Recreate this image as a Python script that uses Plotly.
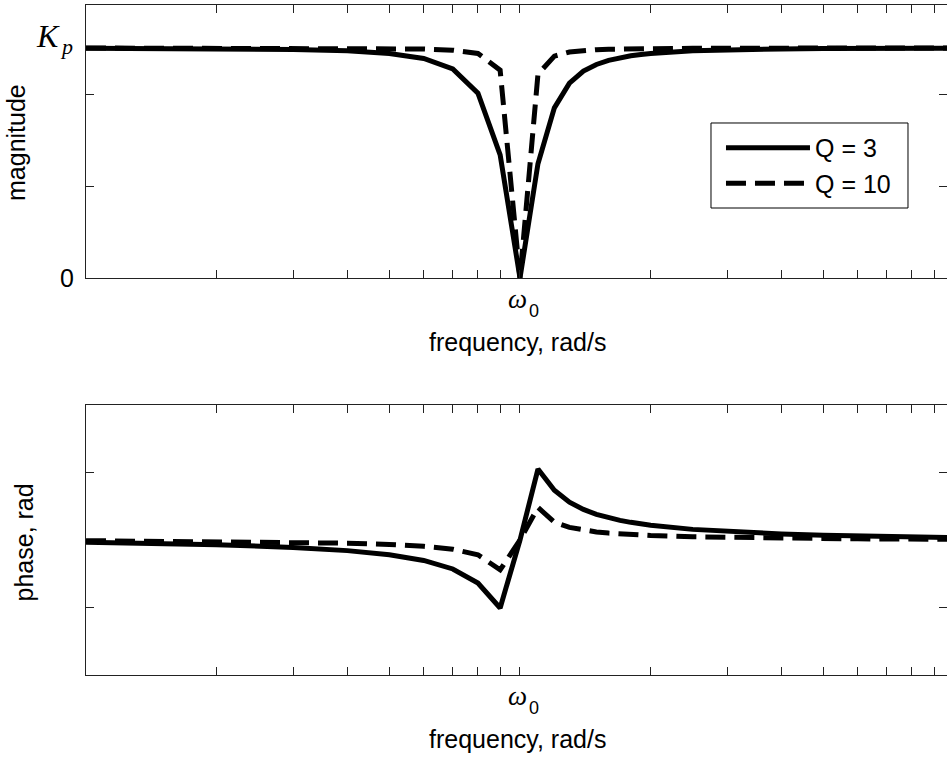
import plotly.graph_objects as go

# frequency samples (rad/s, omega0 = 1)
freq = [0.1, 0.2, 0.3, 0.4, 0.5, 0.6, 0.7, 0.8, 0.9, 1.0,
        1.1, 1.2, 1.3, 1.4, 1.5, 1.6, 1.7, 1.8, 1.9, 2.0,
        2.5, 3.0, 4.0, 5.0, 6.0, 7.0, 8.0, 9.0, 10.0]

# magnitude (in units of Kp)
mag_q3 = [0.9994, 0.9976, 0.9940, 0.9876, 0.9762, 0.9545, 0.9094, 0.8036, 0.5351, 0.0,
          0.4970, 0.7399, 0.8469, 0.8994, 0.9285, 0.9462, 0.9579, 0.9660, 0.9718, 0.9762,
          0.9876, 0.9923, 0.9961, 0.9976, 0.9984, 0.9988, 0.9991, 0.9993, 0.9994]
mag_q10 = [0.99995, 0.9998, 0.9995, 0.9989, 0.9978, 0.9957, 0.9907, 0.9762, 0.9037, 0.0,
           0.8858, 0.9648, 0.9827, 0.9895, 0.9929, 0.9948, 0.9960, 0.9968, 0.9974, 0.9978,
           0.9989, 0.9993, 0.9996, 0.9998, 0.9999, 0.9999, 0.9999, 0.99995, 0.99995]

# phase (rad)
ph_q3 = [-0.0337, -0.0693, -0.1095, -0.1574, -0.2187, -0.3029, -0.4290, -0.6375, -1.0069, 0.0,
         1.0508, 0.7378, 0.5608, 0.4525, 0.3805, 0.3294, 0.2913, 0.2617, 0.2381, 0.2187,
         0.1574, 0.1244, 0.0887, 0.0693, 0.0571, 0.0486, 0.0423, 0.0375, 0.0337]
ph_q10 = [-0.0101, -0.0208, -0.0330, -0.0476, -0.0666, -0.0935, -0.1364, -0.2187, -0.4424, 0.0,
          0.4817, 0.2663, 0.1862, 0.1448, 0.1194, 0.1022, 0.0897, 0.0802, 0.0727, 0.0666,
          0.0476, 0.0375, 0.0267, 0.0208, 0.0171, 0.0146, 0.0127, 0.0113, 0.0101]

series_names = ["Q = 3", "Q = 10"]

# tick positions
x_ticks = [0.1, 0.2, 0.3, 0.4, 0.5, 0.6, 0.7, 0.8, 0.9, 1,
           2, 3, 4, 5, 6, 7, 8, 9, 10]
mag_ticks = [0, 0.4, 0.8]
ph_ticks = [-1, 1]

SANS = "Liberation Sans, Arial, sans-serif"
SERIF = "Liberation Serif, Times New Roman, serif"
AX = "#222222"

fig = go.Figure()
LW = 5
DASH = "20px,9px"

fig.add_trace(go.Scatter(x=freq, y=mag_q3, mode="lines", name=series_names[0],
                         line=dict(color="black", width=LW), xaxis="x", yaxis="y"))
fig.add_trace(go.Scatter(x=freq, y=mag_q10, mode="lines", name=series_names[1],
                         line=dict(color="black", width=LW, dash=DASH), xaxis="x", yaxis="y"))
fig.add_trace(go.Scatter(x=freq, y=ph_q3, mode="lines", name=series_names[0], showlegend=False,
                         line=dict(color="black", width=LW), xaxis="x2", yaxis="y2"))
fig.add_trace(go.Scatter(x=freq, y=ph_q10, mode="lines", name=series_names[1], showlegend=False,
                         line=dict(color="black", width=LW, dash=DASH), xaxis="x2", yaxis="y2"))

xcommon = dict(type="log", range=[-1, 0.9839], tickvals=x_ticks, showticklabels=False,
               ticks="inside", ticklen=8, tickwidth=1, tickcolor=AX,
               showline=True, linecolor=AX, linewidth=1, mirror="ticks",
               showgrid=False, zeroline=False)
ycommon = dict(ticks="inside", ticklen=8, tickwidth=1, tickcolor=AX, showticklabels=False,
               showline=True, linecolor=AX, linewidth=1, mirror="ticks",
               showgrid=False, zeroline=False)

fig.update_layout(
    width=947, height=760,
    margin=dict(l=86, r=0, t=5, b=85),
    paper_bgcolor="white", plot_bgcolor="white",
    font=dict(family=SANS, size=25, color="black"),
    xaxis=dict(domain=[0, 1], anchor="y", **xcommon),
    yaxis=dict(domain=[0.59254, 1.0], anchor="x", range=[0, 1.187],
               tickvals=mag_ticks, **ycommon),
    xaxis2=dict(domain=[0, 1], anchor="y2", **xcommon),
    yaxis2=dict(domain=[0, 0.40299], anchor="x2", range=[-2, 2],
                tickvals=ph_ticks, **ycommon),
    showlegend=True,
    legend=dict(x=0.7375, y=0.8209, xanchor="left", yanchor="top",
                bgcolor="rgba(0,0,0,0)", borderwidth=0,
                itemwidth=84, font=dict(family=SANS, size=25, color="black"),
                tracegroupgap=0),
    shapes=[dict(type="rect", xref="paper", yref="paper",
                 x0=0.7259, x1=0.9547, y0=0.6970, y1=0.8239,
                 line=dict(color="black", width=1), fillcolor="white", layer="above")],
)

ann = [
    dict(text="0", x=-0.0116, y=0.5925, xanchor="right", yanchor="middle",
         font=dict(family=SANS, size=25, color="black")),
    # K_p label
    dict(text="K", x=-0.0447, y=0.9537, xanchor="center", yanchor="middle",
         font=dict(family=SERIF, size=32, color="black", style="italic")),
    dict(text="p", x=-0.0226, y=0.9381, xanchor="center", yanchor="middle",
         font=dict(family=SERIF, size=22, color="black", style="italic")),
    # omega_0 tick labels
    dict(text="ω", x=0.5012, y=0.5612, xanchor="center", yanchor="middle",
         font=dict(family=SERIF, size=27, color="black", style="italic")),
    dict(text="0", x=0.5203, y=0.5433, xanchor="center", yanchor="middle",
         font=dict(family=SANS, size=18, color="black")),
    dict(text="ω", x=0.5012, y=-0.0313, xanchor="center", yanchor="middle",
         font=dict(family=SERIF, size=27, color="black", style="italic")),
    dict(text="0", x=0.5203, y=-0.0493, xanchor="center", yanchor="middle",
         font=dict(family=SANS, size=18, color="black")),
    # axis titles
    dict(text="frequency, rad/s", x=0.5012, y=0.497, xanchor="center", yanchor="middle",
         font=dict(family=SANS, size=25, color="black")),
    dict(text="frequency, rad/s", x=0.5012, y=-0.0955, xanchor="center", yanchor="middle",
         font=dict(family=SANS, size=25, color="black")),
    dict(text="magnitude", x=-0.0807, y=0.7948, xanchor="center", yanchor="middle", textangle=-90,
         font=dict(family=SANS, size=25, color="black")),
    dict(text="phase, rad", x=-0.072, y=0.1978, xanchor="center", yanchor="middle", textangle=-90,
         font=dict(family=SANS, size=25, color="black")),
]
for a in ann:
    a.update(xref="paper", yref="paper", showarrow=False)
fig.update_layout(annotations=ann)

fig.write_html("out.html")
